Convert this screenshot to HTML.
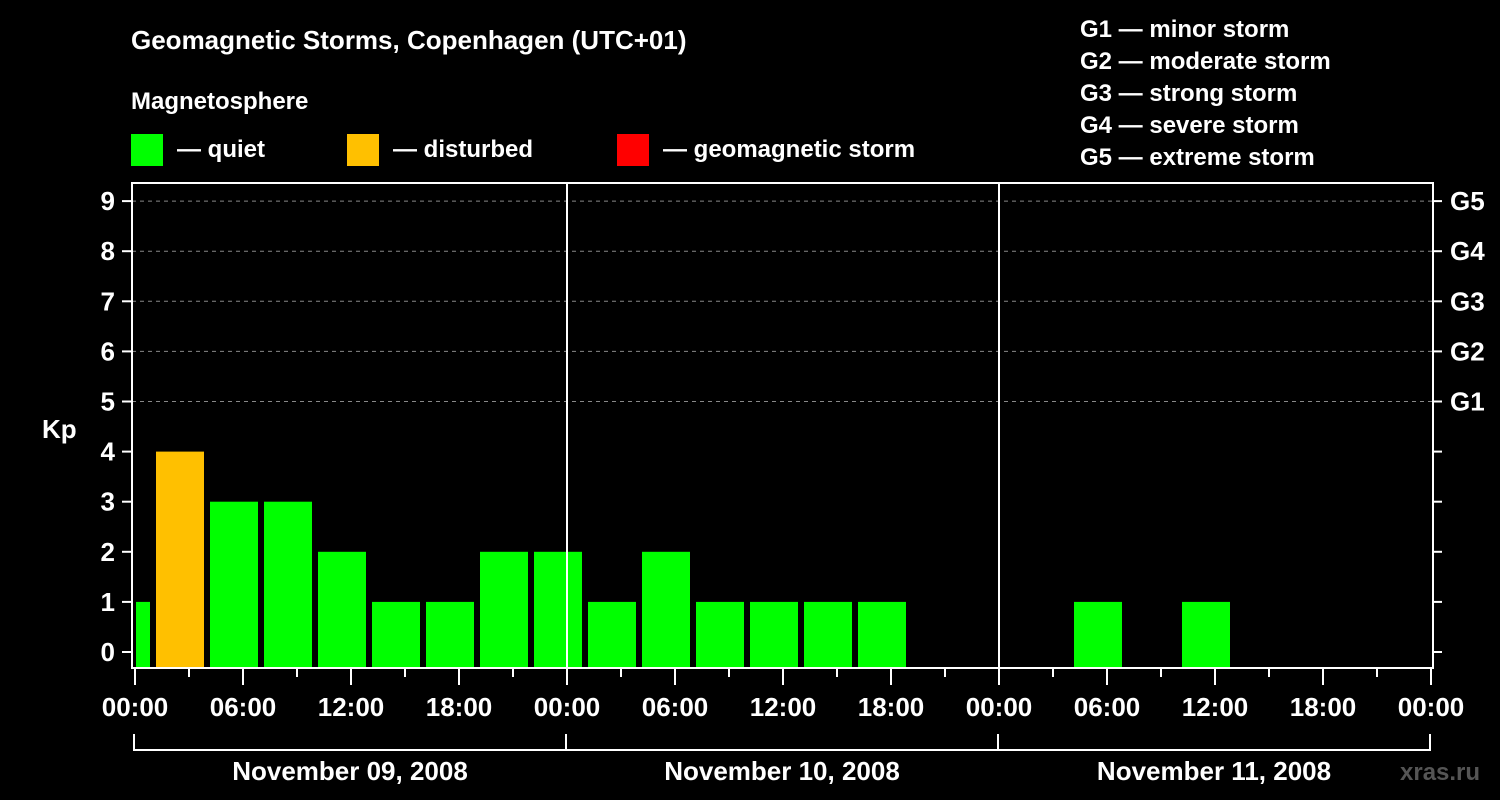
<!DOCTYPE html>
<html><head><meta charset="utf-8"><style>
body{margin:0;background:#000;}
svg{display:block;font-family:"Liberation Sans",Arial,sans-serif;font-weight:bold;}
</style></head><body>
<svg id="chart" width="1500" height="800" viewBox="0 0 1500 800">
<rect width="1500" height="800" fill="#000"/>
<text x="131" y="49" fill="#fff" font-size="26">Geomagnetic Storms, Copenhagen (UTC+01)</text>
<text x="131" y="109" fill="#fff" font-size="24">Magnetosphere</text>
<g><rect x="131" y="134" width="32" height="32" fill="#00ff00"/><text x="177" y="157" fill="#fff" font-size="24">— quiet</text></g>
<g><rect x="347" y="134" width="32" height="32" fill="#ffc000"/><text x="393" y="157" fill="#fff" font-size="24">— disturbed</text></g>
<g><rect x="617" y="134" width="32" height="32" fill="#ff0000"/><text x="663" y="157" fill="#fff" font-size="24">— geomagnetic storm</text></g>
<g fill="#fff" font-size="24">
<text x="1080" y="37">G1 — minor storm</text>
<text x="1080" y="69">G2 — moderate storm</text>
<text x="1080" y="101">G3 — strong storm</text>
<text x="1080" y="133">G4 — severe storm</text>
<text x="1080" y="165">G5 — extreme storm</text>
</g>
<text x="42" y="438" fill="#fff" font-size="26">Kp</text>
<text x="1400" y="780" fill="#555" font-size="24">xras.ru</text>
<g id="plot"></g>
</svg>
<script>
const kpValues = [1,4,3,3,2,1,1,2,2,1,2,1,1,1,1,null,null,null,1,null,1,null,null,null,null];
const kpTicks = [0,1,2,3,4,5,6,7,8,9];
const gLabels = ["G1","G2","G3","G4","G5"];
const timeLabels = ["00:00","06:00","12:00","18:00"];
const dayLabels = ["November 09, 2008","November 10, 2008","November 11, 2008"];

const NS="http://www.w3.org/2000/svg";
const g=document.getElementById('plot');
const X0=135, DAY=432, PL=132, PR=1433, PT=183, PB=668, BASE=667;
const xH=h=>X0+h*DAY/24;
const yK=k=>652-k*50.1;
function el(t,a,p){const e=document.createElementNS(NS,t);for(const k in a)e.setAttribute(k,a[k]);(p||g).appendChild(e);return e;}
// grid
for(const k of kpTicks){
  if(k>=5){const l=el('line',{x1:PL,x2:PR,y1:yK(k),y2:yK(k),stroke:'#888','stroke-dasharray':'4,4','stroke-width':1});
  
  }
  const t=el('line',{x1:122,x2:PL,y1:yK(k),y2:yK(k),stroke:'#fff','stroke-width':2});
  
  
  const t2=el('line',{x1:PR,x2:PR+9,y1:yK(k),y2:yK(k),stroke:'#fff','stroke-width':2});
  
  
  const tx=el('text',{x:115,y:yK(k)+9,fill:'#fff','font-size':26,'text-anchor':'end'});
  tx.textContent=k;
  
  
}
gLabels.forEach((s,i)=>{
  const tx=el('text',{x:1450,y:yK(5+i)+9,fill:'#fff','font-size':26});
  tx.textContent=s;
  
  
});
// bars
kpValues.forEach((v,i)=>{
  if(v===null)return;
  let h0=i===0?0:(i*3-2), h1=i*3+1;
  let x1=xH(h0)+(i===0?1:3), x2=xH(h1)-3;
  const c=v>=5?'#ff0000':(v>=4?'#ffc000':'#00ff00');
  const r=el('rect',{x:x1,y:yK(v),width:x2-x1,height:BASE-yK(v),fill:c});
  
  
});
// day separators
for(let d=1;d<3;d++){const l=el('line',{x1:X0+d*DAY,x2:X0+d*DAY,y1:PT,y2:PB,stroke:'#fff','stroke-width':2});

}
// frame
const fr=el('rect',{x:PL,y:PT,width:PR-PL,height:PB-PT,fill:'none',stroke:'#fff','stroke-width':2});


// x ticks
for(let h=0;h<=72;h+=3){
  const maj=h%6===0;
  const t=el('line',{x1:xH(h),x2:xH(h),y1:PB,y2:maj?685:677,stroke:'#fff','stroke-width':2});
  
  
  if(maj){const tx=el('text',{x:xH(h),y:716,fill:'#fff','font-size':26,'text-anchor':'middle'});
  tx.textContent=timeLabels[(h/6)%4];
  
  }
}
// day brackets
dayLabels.forEach((s,d)=>{
  const a=X0+d*DAY-1,b=X0+(d+1)*DAY-1;
  const p=el('path',{d:`M${a},734 V750 H${b} V734`,fill:'none',stroke:'#fff','stroke-width':2});
  
  
  const tx=el('text',{x:(a+b)/2,y:780,fill:'#fff','font-size':26,'text-anchor':'middle'});
  tx.textContent=s;
  
  
});
</script>
</body></html>
